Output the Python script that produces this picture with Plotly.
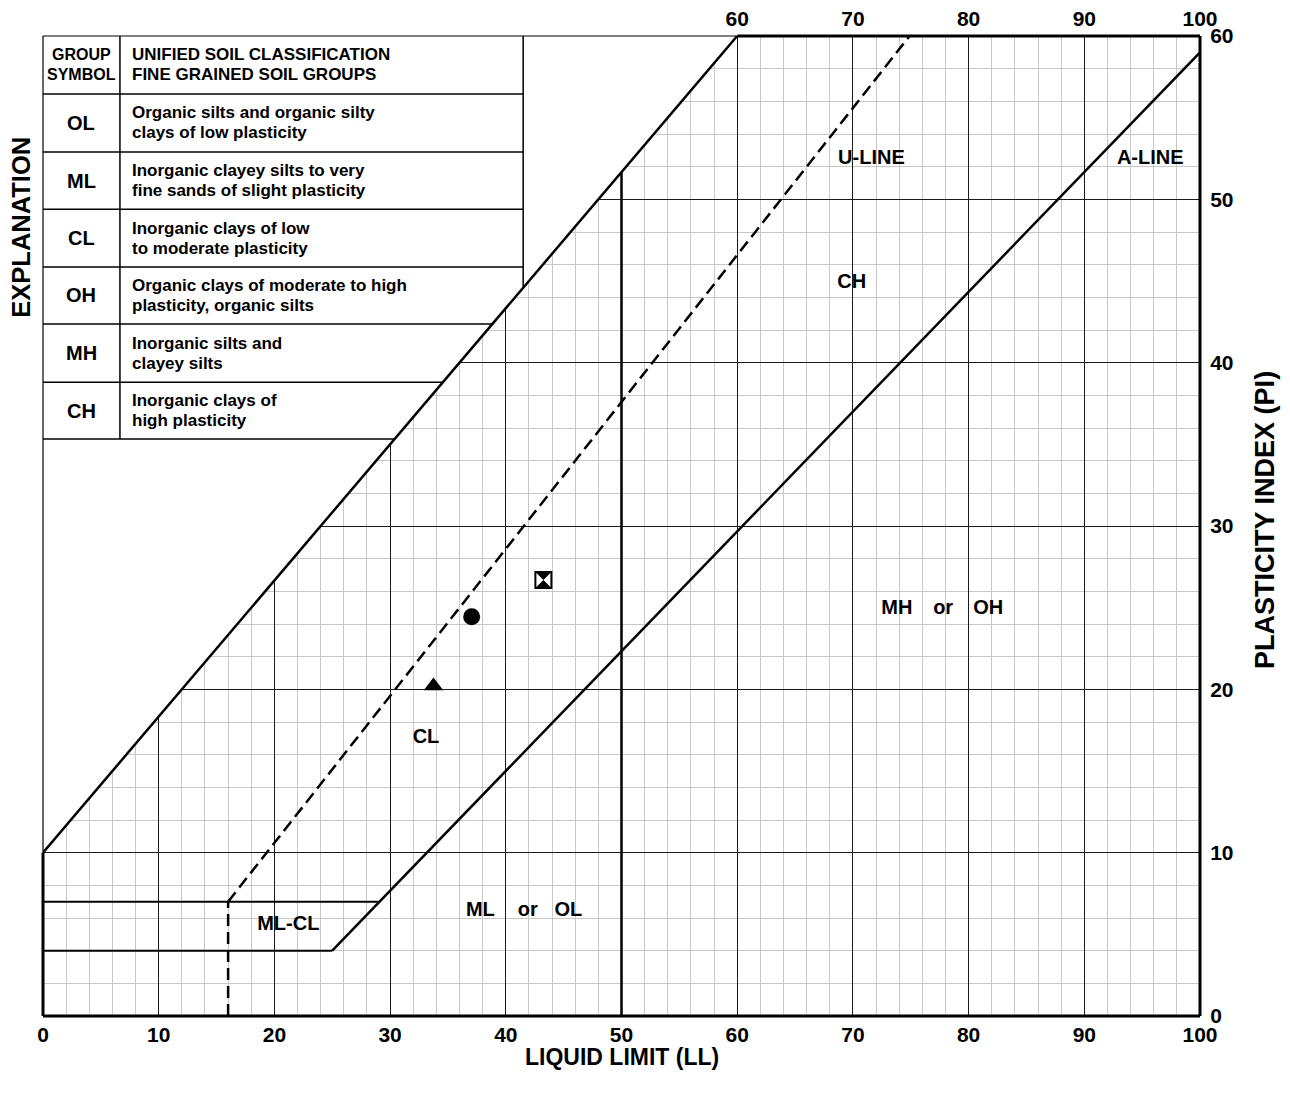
import plotly.graph_objects as go

# ---------------- data ----------------
ll_ticks = [0, 10, 20, 30, 40, 50, 60, 70, 80, 90, 100]
top_ll_ticks = [60, 70, 80, 90, 100]
pi_ticks = [0, 10, 20, 30, 40, 50, 60]

upper_limit_ll = [0, 60]
upper_limit_pi = [10, 60]
u_line_ll = [16, 74.9]
u_line_pi = [7, 60]
u_vert_ll = [16, 16]
u_vert_pi = [0, 7]
a_line_ll = [25, 100]
a_line_pi = [4, 59]
mlcl_top_ll = [0, 29]
mlcl_top_pi = [7, 7]
mlcl_bot_ll = [0, 25]
mlcl_bot_pi = [4, 4]
ll50_ll = [50, 50]
ll50_pi = [0, 51.67]

sample_ll = [33.75, 37.05, 43.25]
sample_pi = [20.2, 24.45, 26.7]

region_labels = ["U-LINE", "A-LINE", "CH", "MH", "or", "OH", "CL", "ML", "or", "OL", "ML-CL"]
region_ll = [71.6, 95.7, 69.9, 73.8, 77.8, 81.7, 33.1, 37.8, 41.9, 45.4, 21.2]
region_pi = [52.5, 52.5, 44.9, 24.9, 24.9, 24.9, 17.0, 6.4, 6.4, 6.4, 5.6]

group_symbols = ["OL", "ML", "CL", "OH", "MH", "CH"]
group_descriptions = [
    ["Organic silts and organic silty", "clays of low plasticity"],
    ["Inorganic clayey silts to very", "fine sands of slight plasticity"],
    ["Inorganic clays of low", "to moderate plasticity"],
    ["Organic clays of moderate to high", "plasticity, organic silts"],
    ["Inorganic silts and", "clayey silts"],
    ["Inorganic clays of", "high plasticity"],
]
header_symbol = ["GROUP", "SYMBOL"]
header_desc = ["UNIFIED SOIL CLASSIFICATION", "FINE GRAINED SOIL GROUPS"]

# table layout (in chart units)
table_right = 41.5
table_col = 6.65
table_rows = [60, 56.45, 52.9, 49.4, 45.86, 42.37, 38.8, 35.33]

FONT = "Liberation Sans, Arial, sans-serif"
BLACK = "#000000"


def bold(size):
    return dict(family=FONT, size=size, color=BLACK, weight="bold")


def diag_x(pi):
    # LL on the upper limit line for a given PI
    return (pi - upper_limit_pi[0]) * (upper_limit_ll[1] - upper_limit_ll[0]) / (upper_limit_pi[1] - upper_limit_pi[0])


fig = go.Figure()

# white cover above the upper limit line (hides grid)
fig.add_trace(go.Scatter(x=[0, 60, 0, 0], y=[10, 60, 60, 10], fill="toself",
                         fillcolor="white", line=dict(width=0), mode="lines",
                         hoverinfo="skip", showlegend=False))


def line(x, y, width=2.5, dash=None):
    fig.add_trace(go.Scatter(x=x, y=y, mode="lines",
                             line=dict(color=BLACK, width=width, dash=dash),
                             hoverinfo="skip", showlegend=False))


line(ll50_ll, ll50_pi, width=2.5)
line(upper_limit_ll, upper_limit_pi, width=2.5)
line(a_line_ll, a_line_pi, width=2.5)
line(mlcl_top_ll, mlcl_top_pi, width=2)
line(mlcl_bot_ll, mlcl_bot_pi, width=2)
line(u_line_ll, u_line_pi, width=2.5, dash="12px,6px")
line(u_vert_ll, u_vert_pi, width=2.5, dash="12px,6px")

# sample points
fig.add_trace(go.Scatter(x=[sample_ll[0]], y=[sample_pi[0]], mode="markers",
                         marker=dict(symbol="triangle-up", size=17, color=BLACK),
                         showlegend=False))
fig.add_trace(go.Scatter(x=[sample_ll[1]], y=[sample_pi[1]], mode="markers",
                         marker=dict(symbol="circle", size=17, color=BLACK),
                         showlegend=False))
fig.add_trace(go.Scatter(x=[sample_ll[2]], y=[sample_pi[2]], mode="markers",
                         marker=dict(symbol="hourglass", size=15, color=BLACK),
                         showlegend=False))
fig.add_trace(go.Scatter(x=[sample_ll[2]], y=[sample_pi[2]], mode="markers",
                         marker=dict(symbol="square-open", size=16, color=BLACK,
                                     line=dict(width=2, color=BLACK)),
                         showlegend=False))

# region labels
fig.add_trace(go.Scatter(x=region_ll, y=region_pi, mode="text", text=region_labels,
                         textfont=bold(20), textposition="middle center",
                         hoverinfo="skip", showlegend=False))

# invisible trace for top axis
fig.add_trace(go.Scatter(x=[None], y=[None], xaxis="x2", yaxis="y",
                         showlegend=False, hoverinfo="skip"))

shapes = []
# table lines
for yv in table_rows[1:]:
    xe = min(table_right, diag_x(yv))
    shapes.append(dict(type="line", xref="x", yref="y", x0=0, x1=xe, y0=yv, y1=yv,
                       line=dict(color=BLACK, width=1.5)))
shapes.append(dict(type="line", xref="x", yref="y", x0=table_right, x1=table_right,
                   y0=60, y1=upper_limit_pi[0] + table_right * 50 / 60,
                   line=dict(color=BLACK, width=1.5)))
shapes.append(dict(type="line", xref="x", yref="y", x0=table_col, x1=table_col,
                   y0=60, y1=table_rows[-1], line=dict(color=BLACK, width=1.5)))


# frame
def pline(x0, y0, x1, y1, w):
    shapes.append(dict(type="line", xref="paper", yref="paper", x0=x0, y0=y0, x1=x1, y1=y1,
                       line=dict(color=BLACK, width=w)))


pline(0, 0, 1, 0, 3)
pline(1, 0, 1, 1, 3)
pline(0, 1, 0.6, 1, 1.2)
pline(0.6, 1, 1, 1, 3)
pline(0, 0, 0, 1 / 6, 3)
pline(0, 1 / 6, 0, 1, 1.2)

annotations = []
LINE_SHIFT = 10
desc_x = table_col + 0.83


def two_lines(x, yc, lines, size, xanchor):
    for k, t in enumerate(lines):
        annotations.append(dict(x=x, y=yc, xref="x", yref="y", text=t, showarrow=False,
                                xanchor=xanchor, yanchor="middle",
                                yshift=LINE_SHIFT if k == 0 else -LINE_SHIFT,
                                font=bold(size)))


yc0 = (table_rows[0] + table_rows[1]) / 2
two_lines(table_col / 2, yc0, header_symbol, 16, "center")
two_lines(desc_x, yc0, header_desc, 17, "left")
for i, (s, d) in enumerate(zip(group_symbols, group_descriptions)):
    yc = (table_rows[i + 1] + table_rows[i + 2]) / 2
    annotations.append(dict(x=table_col / 2, y=yc, xref="x", yref="y", text=s,
                            showarrow=False, font=bold(20)))
    two_lines(desc_x, yc, d, 17, "left")

annotations.append(dict(x=-0.0185, y=0.805, xref="paper", yref="paper", text="EXPLANATION",
                        textangle=-90, showarrow=False, xanchor="center", yanchor="middle",
                        font=bold(25.5)))
annotations.append(dict(x=1.056, y=0.506, xref="paper", yref="paper",
                        text="PLASTICITY INDEX (PI)", textangle=-90, showarrow=False,
                        xanchor="center", yanchor="middle", font=bold(27)))
annotations.append(dict(x=0.5, y=-0.0415, xref="paper", yref="paper",
                        text="LIQUID LIMIT (LL)", showarrow=False, xanchor="center",
                        yanchor="middle", font=bold(23)))

grid_major = dict(showgrid=True, gridcolor="#1a1a1a", gridwidth=1)
minor = dict(dtick=2, tick0=0, showgrid=True, gridcolor="#c8c8c8", gridwidth=1, ticks="")

fig.update_layout(
    width=1290, height=1100,
    margin=dict(l=35, r=98, t=28, b=92, autoexpand=False),
    paper_bgcolor="white", plot_bgcolor="white",
    shapes=shapes, annotations=annotations,
    xaxis=dict(range=[0, 100], tickvals=ll_ticks, zeroline=False, showline=False,
               ticks="", ticklabelstandoff=4,
               automargin=False, tickfont=bold(21), minor=minor, **grid_major),
    xaxis2=dict(range=[0, 100], overlaying="x", side="top", tickvals=top_ll_ticks,
                ticks="", ticklabelstandoff=5,
                automargin=False, showgrid=False, zeroline=False, showline=False,
                tickfont=bold(21)),
    yaxis=dict(range=[0, 60], side="right", tickvals=pi_ticks, zeroline=False,
               showline=False, automargin=False, tickfont=bold(21), minor=minor,
               ticks="outside", tickcolor="rgba(0,0,0,0)", ticklen=5,
               **grid_major),
    showlegend=False,
)

fig.write_html("out.html")
